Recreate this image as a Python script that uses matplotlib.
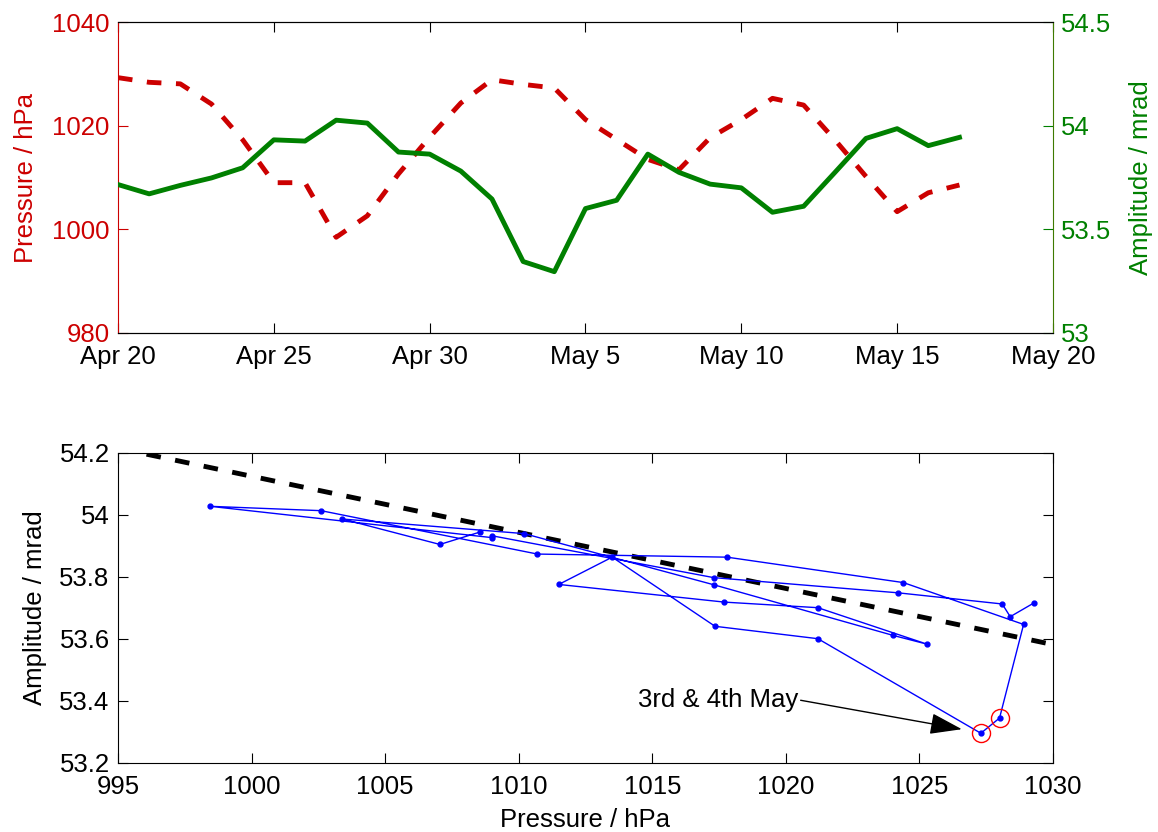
import matplotlib
matplotlib.use("Agg")
import matplotlib.pyplot as plt
import matplotlib.ticker as mticker
import numpy as np
import pandas as pd

plt.rcParams['font.family'] = ['Liberation Sans', 'DejaVu Sans']
plt.rcParams['font.size'] = 18.5

# daily means, 20 Apr - 17 May
dates = pd.date_range('2013-04-20', '2013-05-17', freq='D')
pressure = [1029.3, 1028.4, 1028.1, 1024.2, 1017.3, 1009.0, 1009.0, 998.45,
            1002.6, 1010.7, 1017.8, 1024.4, 1028.9, 1028.0, 1027.3, 1021.2,
            1017.35, 1013.5, 1011.5, 1017.7, 1021.2, 1025.3, 1024.0, 1017.3,
            1010.2, 1003.4, 1007.05, 1008.55]
amplitude = [53.716, 53.671, 53.712, 53.748, 53.797, 53.932, 53.926, 54.027,
             54.013, 53.873, 53.863, 53.781, 53.646, 53.344, 53.295, 53.600,
             53.640, 53.863, 53.775, 53.718, 53.700, 53.582, 53.611, 53.774,
             53.939, 53.986, 53.904, 53.944]

# linear fit amplitude = fit_a + fit_b * (p - 1000)
fit_a = 54.124
fit_b = -0.0181

date_ticks = pd.date_range('2013-04-20', '2013-05-20', freq='5D')
highlight = ['2013-05-03', '2013-05-04']

red = '#cc0000'
green = '#008000'

df = pd.DataFrame({'pressure': pressure, 'amplitude': amplitude}, index=dates)


def short_date(v, pos):
    d = matplotlib.dates.num2date(v)
    return '{:%b} {}'.format(d, d.day)


def plain(v, pos):
    return f'{round(v, 3):g}'


fig = plt.figure(figsize=(11.58, 8.32), dpi=100)

# ---- time series, pressure on left, amplitude on right
ax1 = fig.add_axes([0.1019, 0.6001, 0.8074, 0.3731])
ax2 = ax1.twinx()

ax1.plot(df.index, df['pressure'], color=red, lw=3.5, ls='--', dashes=(3, 3))
ax2.plot(df.index, df['amplitude'], color=green, lw=3.5)

ax1.set_xlim(date_ticks[0], date_ticks[-1])
ax1.set_xticks(date_ticks)
ax1.xaxis.set_major_formatter(mticker.FuncFormatter(short_date))
ax1.set_ylim(980, 1040)
ax1.set_yticks([980, 1000, 1020, 1040])
ax2.set_ylim(53, 54.5)
ax2.set_yticks([53, 53.5, 54, 54.5])
ax2.yaxis.set_major_formatter(mticker.FuncFormatter(plain))

ax1.tick_params(axis='x', top=True, direction='in', length=7, pad=9)
ax1.tick_params(axis='y', colors=red, direction='in', length=7, pad=6)
ax2.tick_params(axis='y', colors=green, direction='in', length=7, pad=6)
ax1.spines['left'].set_color(red)
ax1.spines['right'].set_visible(False)
ax2.spines['left'].set_visible(False)
ax2.spines['right'].set_color('#3f7a00')

ax1.set_ylabel('Pressure / hPa', color=red)
ax1.yaxis.set_label_coords(-0.0856, 0.5)
ax2.set_ylabel('Amplitude / mrad', color=green)
ax2.yaxis.set_label_coords(1.081, 0.5)

# ---- amplitude against pressure
ax3 = fig.add_axes([0.1019, 0.0833, 0.8074, 0.3726])

p_fit = np.array([995, 1030])
ax3.plot(p_fit, fit_a + fit_b * (p_fit - 1000), color='k', lw=3.5, ls='--',
         dashes=(3, 3))
ax3.plot(df['pressure'], df['amplitude'], color='blue', lw=1, marker='.', ms=7)
ax3.plot(df.loc[highlight, 'pressure'], df.loc[highlight, 'amplitude'], 'o',
         mfc='none', mec='red', ms=13, mew=1)

ax3.annotate('3rd & 4th May', xy=(1026.59, 53.308), xytext=(1020.45, 53.403),
             ha='right', va='center',
             arrowprops=dict(arrowstyle='-|>,head_length=1.0,head_width=0.33',
                             color='k', lw=1, shrinkA=0, shrinkB=0,
                             relpos=(1, 0.5), mutation_scale=20))

ax3.set_xlim(995, 1030)
ax3.set_xticks(np.arange(995, 1031, 5))
ax3.set_ylim(53.2, 54.2)
ax3.set_yticks(np.arange(53.2, 54.21, 0.2))
ax3.yaxis.set_major_formatter(mticker.FuncFormatter(plain))
ax3.tick_params(top=True, right=True, direction='in', length=7, pad=6)
ax3.tick_params(axis='x', pad=9)

ax3.set_xlabel('Pressure / hPa')
ax3.xaxis.set_label_coords(0.5, -0.145)
ax3.set_ylabel('Amplitude / mrad')
ax3.yaxis.set_label_coords(-0.0763, 0.5)

fig.savefig('out.png', dpi=100)
